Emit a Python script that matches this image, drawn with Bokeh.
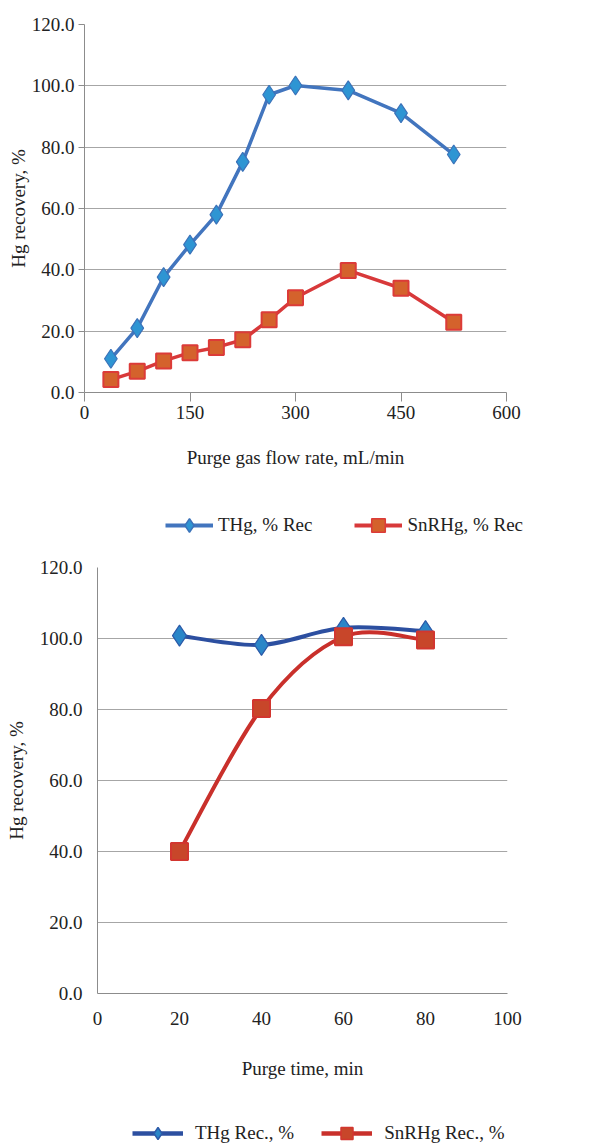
from bokeh.plotting import figure
from bokeh.layouts import column, row
from bokeh.models import Range1d, FixedTicker, NumeralTickFormatter, Legend, LegendItem, ColumnDataSource
from bokeh.embed import file_html
from bokeh.resources import INLINE

# ---- Data: chart 1 (purge gas flow rate) ----
flow_rate = [37.5, 75, 112.5, 150, 187.5, 225, 262.5, 300, 375, 450, 525]
thg_rec_flow = [11.0, 21.0, 37.6, 48.2, 58.0, 75.2, 97.1, 100.1, 98.5, 91.1, 77.6]
snrhg_rec_flow = [4.2, 6.9, 10.3, 13.0, 14.7, 17.2, 23.7, 30.9, 39.8, 34.0, 22.9]
flow_ticks = [0, 150, 300, 450, 600]

# ---- Data: chart 2 (purge time) ----
purge_time = [20, 40, 60, 80]
thg_rec_time = [100.8, 98.2, 103.0, 102.1]
snrhg_rec_time = [40.0, 80.3, 100.5, 99.6]
time_ticks = [0, 20, 40, 60, 80, 100]
y_ticks = [0, 20, 40, 60, 80, 100, 120]

FONT = "Liberation Serif"
GRID = "#a6a6a6"
AX = "#8c8c8c"
TXT = "#222222"

def style(p, xticks, x_tick_out, y_tick_out, x_standoff, y_standoff, ylab_standoff, xlab_standoff):
    p.xgrid.grid_line_color = None
    p.ygrid.grid_line_color = GRID
    p.ygrid.grid_line_width = 1
    p.outline_line_color = None
    p.yaxis.ticker = FixedTicker(ticks=y_ticks)
    p.xaxis.ticker = FixedTicker(ticks=xticks)
    p.yaxis.formatter = NumeralTickFormatter(format="0.0")
    for ax in (p.xaxis[0], p.yaxis[0]):
        ax.axis_line_color = AX
        ax.major_tick_line_color = AX
        ax.minor_tick_line_color = None
        ax.major_tick_in = 0
        ax.major_label_text_font = FONT
        ax.major_label_text_font_size = "19px"
        ax.major_label_text_color = TXT
        ax.axis_label_text_font = FONT
        ax.axis_label_text_font_size = "19px"
        ax.axis_label_text_font_style = "normal"
        ax.axis_label_text_color = TXT
    p.xaxis.major_tick_out = x_tick_out
    p.yaxis.major_tick_out = y_tick_out
    p.xaxis.major_label_standoff = x_standoff
    p.yaxis.major_label_standoff = y_standoff
    p.yaxis.axis_label_standoff = ylab_standoff
    p.xaxis.axis_label_standoff = xlab_standoff


def bezier_segments(xs, ys):
    # Excel-like smoothed line: cubic Bezier control points derived from neighbours
    n = len(xs)
    d = dict(x0=[], y0=[], x1=[], y1=[], cx0=[], cy0=[], cx1=[], cy1=[])
    for i in range(n - 1):
        x_prev, y_prev = (xs[i - 1], ys[i - 1]) if i > 0 else (xs[i], ys[i])
        x_next, y_next = (xs[i + 2], ys[i + 2]) if i + 2 < n else (xs[i + 1], ys[i + 1])
        d["x0"].append(xs[i]); d["y0"].append(ys[i])
        d["x1"].append(xs[i + 1]); d["y1"].append(ys[i + 1])
        d["cx0"].append(xs[i] + (xs[i + 1] - x_prev) / 6)
        d["cy0"].append(ys[i] + (ys[i + 1] - y_prev) / 6)
        d["cx1"].append(xs[i + 1] - (x_next - xs[i]) / 6)
        d["cy1"].append(ys[i + 1] - (y_next - ys[i]) / 6)
    return ColumnDataSource(d)


def legend_figure(height, series, styles, labels, loc, glyph_w, glyph_h, spacing, standoff):
    # strip holding the legend; its swatch renderers carry the series data but the
    # view range excludes it, so only the legend swatches are visible
    lf = figure(width=612, height=height, output_backend="svg", toolbar_location=None,
                x_axis_location=None, y_axis_location=None,
                x_range=Range1d(-2, -1), y_range=Range1d(-2, -1),
                min_border_left=0, min_border_right=0, min_border_top=0, min_border_bottom=0)
    lf.xgrid.grid_line_color = None
    lf.ygrid.grid_line_color = None
    lf.outline_line_color = None
    items = []
    for (xs, ys), (lc, lw, mk, ms, fc, mc), lab in zip(series, styles, labels):
        ln = lf.line(xs, ys, line_color=lc, line_width=lw)
        sc = lf.scatter(xs, ys, marker=mk, size=ms, fill_color=fc, line_color=mc, line_width=1.5)
        items.append(LegendItem(label=lab, renderers=[ln, sc]))
    leg = Legend(items=items, orientation="horizontal", location=loc, ncols=len(items), nrows=1,
                 label_text_font=FONT, label_text_font_size="19px", label_text_color=TXT,
                 glyph_width=glyph_w, glyph_height=glyph_h, label_height=glyph_h,
                 spacing=spacing, border_line_color=None, background_fill_alpha=0,
                 margin=0, padding=0, label_standoff=standoff)
    lf.add_layout(leg, "center")
    return lf


# ---------------- Chart 1 ----------------
p1 = figure(frame_width=422, frame_height=368, output_backend="svg", toolbar_location=None,
            x_range=Range1d(0, 600), y_range=Range1d(0, 120),
            min_border_left=84, min_border_right=106, min_border_top=24, min_border_bottom=100)
style(p1, flow_ticks, 9, 6, 4, 4, 0, 25)
p1.xaxis.axis_label = "Purge gas flow rate, mL/min"
p1.yaxis.axis_label = "Hg recovery, %"

b1, b1_fill, b1_edge = "#4275be", "#2e95d3", "#3b72b9"
r1, r1_fill, r1_edge = "#d8393a", "#d4622c", "#dc3b38"
p1.line(flow_rate, thg_rec_flow, line_color=b1, line_width=3.5)
p1.scatter(flow_rate, thg_rec_flow, marker="diamond", size=19,
           fill_color=b1_fill, line_color=b1_edge, line_width=1.2)
p1.line(flow_rate, snrhg_rec_flow, line_color=r1, line_width=3.5)
p1.scatter(flow_rate, snrhg_rec_flow, marker="square", size=15,
           fill_color=r1_fill, line_color=r1_edge, line_width=2)

leg1 = legend_figure(66,
                     [(flow_rate, thg_rec_flow), (flow_rate, snrhg_rec_flow)],
                     [(b1, 4, "diamond", 15, b1_fill, b1_edge), (r1, 4, "square", 13, r1_fill, r1_edge)],
                     ["THg, % Rec", "SnRHg, % Rec"], (165, 16), 48, 34, 42, 5)

# ---------------- Chart 2 ----------------
p2 = figure(frame_width=410, frame_height=426, output_backend="svg", toolbar_location=None,
            x_range=Range1d(0, 100), y_range=Range1d(0, 120),
            min_border_left=97, min_border_right=105, min_border_top=9, min_border_bottom=95)
style(p2, time_ticks, 0, 0, 18, 15, 10, 30)
p2.xaxis.axis_label = "Purge time, min"
p2.yaxis.axis_label = "Hg recovery, %"

b2, b2_fill, b2_edge = "#2c4fa0", "#2a86c8", "#2c5aa8"
r2, r2_fill, r2_edge = "#c9302b", "#c8462a", "#d2362f"
src_b = bezier_segments(purge_time, thg_rec_time)
src_r = bezier_segments(purge_time, snrhg_rec_time)
p2.bezier(x0="x0", y0="y0", x1="x1", y1="y1", cx0="cx0", cy0="cy0", cx1="cx1", cy1="cy1",
          source=src_b, line_color=b2, line_width=4)
p2.scatter(purge_time, thg_rec_time, marker="diamond", size=21,
           fill_color=b2_fill, line_color=b2_edge, line_width=1.2)
p2.bezier(x0="x0", y0="y0", x1="x1", y1="y1", cx0="cx0", cy0="cy0", cx1="cx1", cy1="cy1",
          source=src_r, line_color=r2, line_width=4)
p2.scatter(purge_time, snrhg_rec_time, marker="square", size=17,
           fill_color=r2_fill, line_color=r2_edge, line_width=2)

leg2 = legend_figure(56,
                     [(purge_time, thg_rec_time), (purge_time, snrhg_rec_time)],
                     [(b2, 4.5, "diamond", 13, b2_fill, b2_edge), (r2, 4.5, "square", 13, r2_fill, r2_edge)],
                     ["THg Rec., %", "SnRHg Rec., %"], (132, -4), 51, 30, 27, 12)

layout = column(row(p1), row(leg1), row(p2), row(leg2), spacing=0)
open("out.html", "w").write(file_html(layout, INLINE))
